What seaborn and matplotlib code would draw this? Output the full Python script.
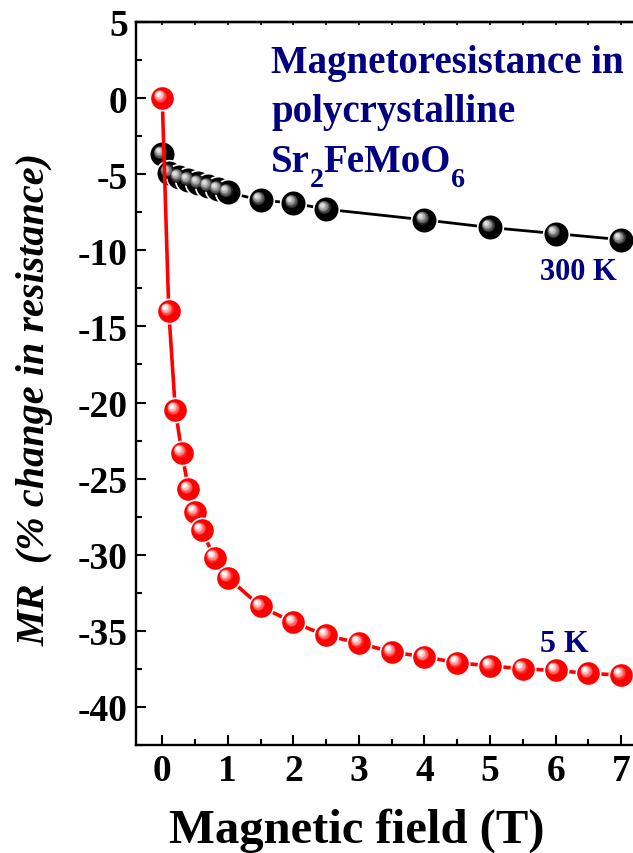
import matplotlib
matplotlib.use("Agg")
import numpy as np
import pandas as pd
import seaborn as sns
import matplotlib.pyplot as plt
from matplotlib.transforms import offset_copy
from matplotlib.ticker import MultipleLocator
from matplotlib.colors import to_rgb

# ---- data ----
field_300K = [0, 0.1, 0.25, 0.4, 0.55, 0.7, 0.85, 1.0, 1.5, 2.0, 2.5, 4.0, 5.0, 6.0, 7.0]
mr_300K = [-3.7, -4.9, -5.2, -5.4, -5.6, -5.8, -6.0, -6.2, -6.7, -6.9, -7.3, -8.0, -8.5, -8.9, -9.3]

field_5K = [0, 0.1, 0.2, 0.3, 0.4, 0.5, 0.6, 0.8, 1.0, 1.5, 2.0, 2.5, 3.0, 3.5,
            4.0, 4.5, 5.0, 5.5, 6.0, 6.5, 7.0]
mr_5K = [0, -14.0, -20.5, -23.3, -25.7, -27.2, -28.4, -30.2, -31.5, -33.4, -34.45,
         -35.3, -35.8, -36.4, -36.7, -37.1, -37.3, -37.5, -37.6, -37.8, -37.9]

x_ticks = [0, 1, 2, 3, 4, 5, 6, 7]
y_ticks = [-40, -35, -30, -25, -20, -15, -10, -5, 0, 5]

sns.set_theme(style="ticks")
plt.rcParams["font.family"] = ["Liberation Serif", "DejaVu Serif"]
plt.rcParams["font.weight"] = "bold"
plt.rcParams["axes.unicode_minus"] = False
plt.rcParams["text.color"] = "black"
plt.rcParams["axes.labelcolor"] = "black"
plt.rcParams["xtick.color"] = "black"
plt.rcParams["ytick.color"] = "black"

W, H = 633, 854
fig = plt.figure(figsize=(W / 100, H / 100), dpi=100)
ax = fig.add_axes([136 / W, 1 - 746 / H, (W - 136) / W, (746 - 23) / H])

df5 = pd.DataFrame({"field": field_5K, "mr": mr_5K})
df300 = pd.DataFrame({"field": field_300K, "mr": mr_300K})

navy = "#000080"


def sphere(data, base, light, z, ms=17.5, hl=10.0):
    ax.plot(data["field"], data["mr"], "o", ms=ms, mfc=base, mec="white",
            mew=1.2, zorder=z, ls="none")
    n = 10
    b = np.array(to_rgb(base))
    l = np.array(to_rgb(light))
    for i in range(n):
        t = i / (n - 1)
        size = hl * (1 - t) + 2.4 * t
        off = 1.4 + 1.9 * t
        w = 1 - (1 - t) ** 1.3
        col = b * (1 - w) + l * w
        tr = offset_copy(ax.transData, fig=fig, x=-off, y=off, units="points")
        ax.plot(data["field"], data["mr"], "o", ms=size, mfc=col, mec="none",
                zorder=z + 0.01 * (i + 1), transform=tr, ls="none")


sns.lineplot(data=df300, x="field", y="mr", ax=ax, color="black", lw=2.0,
             zorder=2, estimator=None, sort=False)
sphere(df300, "#000000", "#e0e0e0", 3, ms=18.5, hl=10.5)
sns.lineplot(data=df5, x="field", y="mr", ax=ax, color="#ff0000", lw=2.6,
             zorder=4, estimator=None, sort=False)
sphere(df5, "#ff0000", "#ffffff", 5)

ax.set_xlim(-0.4, 7.18)
ax.set_ylim(-42.5, 5)
ax.set_xticks(x_ticks)
ax.set_yticks(y_ticks)
ax.xaxis.set_minor_locator(MultipleLocator(0.5))
ax.yaxis.set_minor_locator(MultipleLocator(2.5))
ax.set_xlabel("")
ax.set_ylabel("")

for s in ["left", "bottom", "top"]:
    ax.spines[s].set_linewidth(1.7)
    ax.spines[s].set_color("black")
ax.spines["right"].set_visible(False)

ax.tick_params(which="major", direction="in", length=7, width=1.5,
               labelsize=27, pad=6, colors="black", top=False, right=False)
ax.tick_params(which="minor", direction="in", length=4, width=1.5,
               top=False, right=False)
for lab in ax.get_xticklabels() + ax.get_yticklabels():
    lab.set_fontweight("bold")

sec = ax.secondary_xaxis("top")
sec.set_xticks(np.arange(0, 7.5, 0.5))
sec.tick_params(direction="in", length=2, width=1.2, labeltop=False)
sec.spines["top"].set_linewidth(1.7)

# texts
fig.text(357 / W, 1 - 843 / H, "Magnetic field (T)", ha="center", va="baseline",
         fontsize=35, fontweight="bold")
fig.text(35 / W, 1 - 400 / H, "MR  (% change in resistance)", rotation=90,
         ha="center", va="center", fontsize=29, fontweight="bold", fontstyle="italic")

fs = 28
fig.text(271 / W, 1 - 73 / H, "Magnetoresistance in", ha="left", va="baseline",
         fontsize=fs, fontweight="bold", color=navy)
fig.text(271 / W, 1 - 122 / H, "polycrystalline", ha="left", va="baseline",
         fontsize=fs, fontweight="bold", color=navy)

# Sr2FeMoO6 with manual subscripts
renderer = fig.canvas.get_renderer()
parts = [("Sr", False), ("2", True), ("FeMoO", False), ("6", True)]
xpos = 271.0
base_y = 172.0
for txt, sub in parts:
    y = base_y + (15 if sub else 0)
    t = fig.text(xpos / W, 1 - y / H, txt, ha="left", va="baseline",
                 fontsize=fs * (0.72 if sub else 1.0), fontweight="bold", color=navy)
    bb = t.get_window_extent(renderer=renderer)
    xpos += bb.width

fig.text(540 / W, 1 - 280 / H, "300 K", ha="left", va="baseline",
         fontsize=22, fontweight="bold", color=navy)
fig.text(540 / W, 1 - 652 / H, "5 K", ha="left", va="baseline",
         fontsize=23, fontweight="bold", color=navy)

fig.savefig("out.png", dpi=100)
